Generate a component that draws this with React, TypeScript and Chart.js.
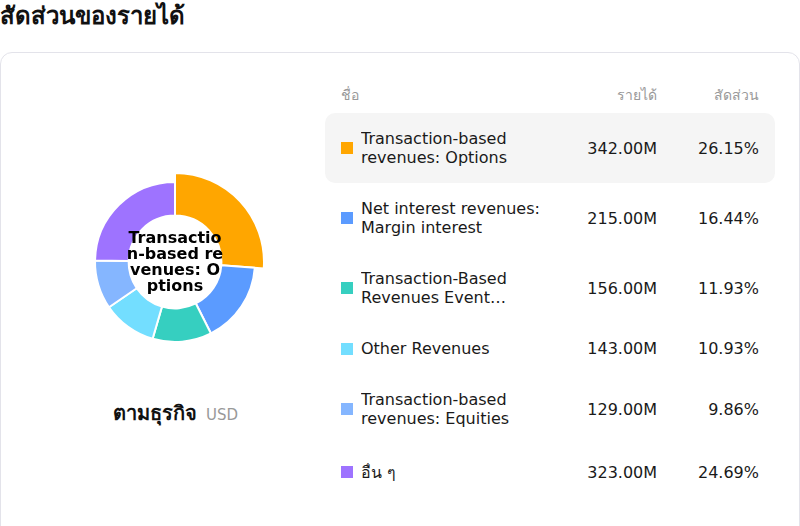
import { useEffect, useRef } from "react"
import { Chart, registerables } from "chart.js"
import type { Plugin } from "chart.js"

Chart.register(...registerables)

// Revenue breakdown data (USD, millions)
const labels = [
  "Transaction-based revenues: Options",
  "Net interest revenues: Margin interest",
  "Transaction-Based Revenues Event Contracts",
  "Other Revenues",
  "Transaction-based revenues: Equities",
  "อื่น ๆ",
]
const revenues = [342, 215, 156, 143, 129, 323]
const shares = [26.15, 16.44, 11.93, 10.93, 9.86, 24.69]
const colors = ["#FFA600", "#5B9BFF", "#36CFC0", "#73DEFF", "#85B6FF", "#9E73FF"]
const activeIndex = 0

const font = '"DejaVu Sans", sans-serif'

// grow the selected slice outward, like a hover highlight
const growActive: Plugin<"doughnut"> = {
  id: "growActive",
  afterDatasetsUpdate(chart) {
    const arc = chart.getDatasetMeta(0).data[activeIndex] as any
    if (arc) arc.outerRadius = arc.outerRadius + 9
  },
}

function RevenueDonut() {
  const chartRef = useRef<HTMLCanvasElement>(null)
  const chartInstance = useRef<Chart | null>(null)

  useEffect(() => {
    if (!chartRef.current) return
    if (chartInstance.current) chartInstance.current.destroy()
    const ctx = chartRef.current.getContext("2d")
    if (!ctx) return

    chartInstance.current = new Chart(ctx, {
      type: "doughnut",
      data: {
        labels,
        datasets: [
          {
            data: revenues,
            backgroundColor: colors,
            borderColor: "#ffffff",
            borderWidth: 2,
          },
        ],
      },
      options: {
        animation: false,
        responsive: true,
        maintainAspectRatio: false,
        cutout: "58%",
        layout: { padding: 10 },
        events: [],
        plugins: {
          legend: { display: false },
          tooltip: { enabled: false },
        },
      },
      plugins: [growActive],
    })

    return () => {
      if (chartInstance.current) {
        chartInstance.current.destroy()
        chartInstance.current = null
      }
    }
  }, [])

  return (
    <div style={{ position: "relative", width: 182, height: 182 }}>
      <canvas ref={chartRef} />
      <div
        style={{
          position: "absolute",
          left: 0,
          top: 0,
          width: "100%",
          height: "100%",
          display: "flex",
          alignItems: "center",
          justifyContent: "center",
          pointerEvents: "none",
        }}
      >
        <div
          style={{
            width: 98,
            wordBreak: "break-all",
            textAlign: "center",
            fontWeight: 700,
            fontSize: 16,
            lineHeight: "16px",
            color: "#000",
          }}
        >
          {labels[activeIndex]}
        </div>
      </div>
    </div>
  )
}

export default function App() {
  const cell = { padding: "16px 16px", verticalAlign: "middle" as const }
  return (
    <div style={{ fontFamily: font, width: 800, height: 526, position: "relative", overflow: "hidden", background: "#fff" }}>
      <style>{`body{margin:0}`}</style>
      <div style={{ fontSize: 24, fontWeight: 700, lineHeight: "32px", color: "#111", height: 52, whiteSpace: "nowrap" }}>
        สัดส่วนของรายได้
      </div>
      <div
        style={{
          position: "absolute",
          left: 0,
          top: 52,
          boxSizing: "border-box",
          width: 800,
          height: 520,
          border: "1px solid #e3e3ea",
          borderRadius: 12,
        }}
      >
        <div style={{ position: "absolute", left: 83, top: 118 }}>
          <RevenueDonut />
        </div>
        <div
          style={{
            position: "absolute",
            left: 24,
            width: 301,
            top: 344,
            textAlign: "center",
            whiteSpace: "nowrap",
          }}
        >
          <span style={{ fontSize: 20, fontWeight: 700, color: "#111" }}>ตามธุรกิจ</span>
          <span style={{ fontSize: 15, color: "#999", marginLeft: 9 }}>USD</span>
        </div>
        <table
          style={{
            position: "absolute",
            left: 324,
            top: 24,
            width: 450,
            borderCollapse: "separate",
            borderSpacing: 0,
            fontSize: 16,
            color: "#1a1a1a",
          }}
        >
          <thead>
            <tr style={{ height: 36, fontSize: 14, color: "#999" }}>
              <th style={{ textAlign: "left", fontWeight: 400, padding: "0 16px" }}>ชื่อ</th>
              <th style={{ textAlign: "right", fontWeight: 400, padding: "0 16px", width: 80 }}>รายได้</th>
              <th style={{ textAlign: "right", fontWeight: 400, padding: "0 16px", width: 72 }}>สัดส่วน</th>
            </tr>
          </thead>
          <tbody>
            {labels.map((name, i) => {
              const bg = i === activeIndex ? "#f5f5f5" : "transparent"
              const last = i === labels.length - 1
              return (
                <tr key={name} style={{ height: last ? 56 : undefined }}>
                  <td style={{ ...cell, background: bg, borderRadius: "10px 0 0 10px" }}>
                    <div style={{ display: "flex", alignItems: "center" }}>
                      <span
                        style={{ width: 12, height: 12, background: colors[i], flex: "none", marginRight: 8 }}
                      />
                      <span
                        style={{
                          width: 186,
                          lineHeight: "19px",
                          display: "-webkit-box",
                          WebkitLineClamp: 2,
                          WebkitBoxOrient: "vertical",
                          overflow: "hidden",
                        }}
                      >
                        {name}
                      </span>
                    </div>
                  </td>
                  <td style={{ ...cell, background: bg, textAlign: "right", whiteSpace: "nowrap" }}>
                    {revenues[i].toFixed(2)}M
                  </td>
                  <td
                    style={{
                      ...cell,
                      background: bg,
                      textAlign: "right",
                      whiteSpace: "nowrap",
                      borderRadius: "0 10px 10px 0",
                    }}
                  >
                    {shares[i].toFixed(2)}%
                  </td>
                </tr>
              )
            })}
          </tbody>
        </table>
      </div>
    </div>
  )
}
